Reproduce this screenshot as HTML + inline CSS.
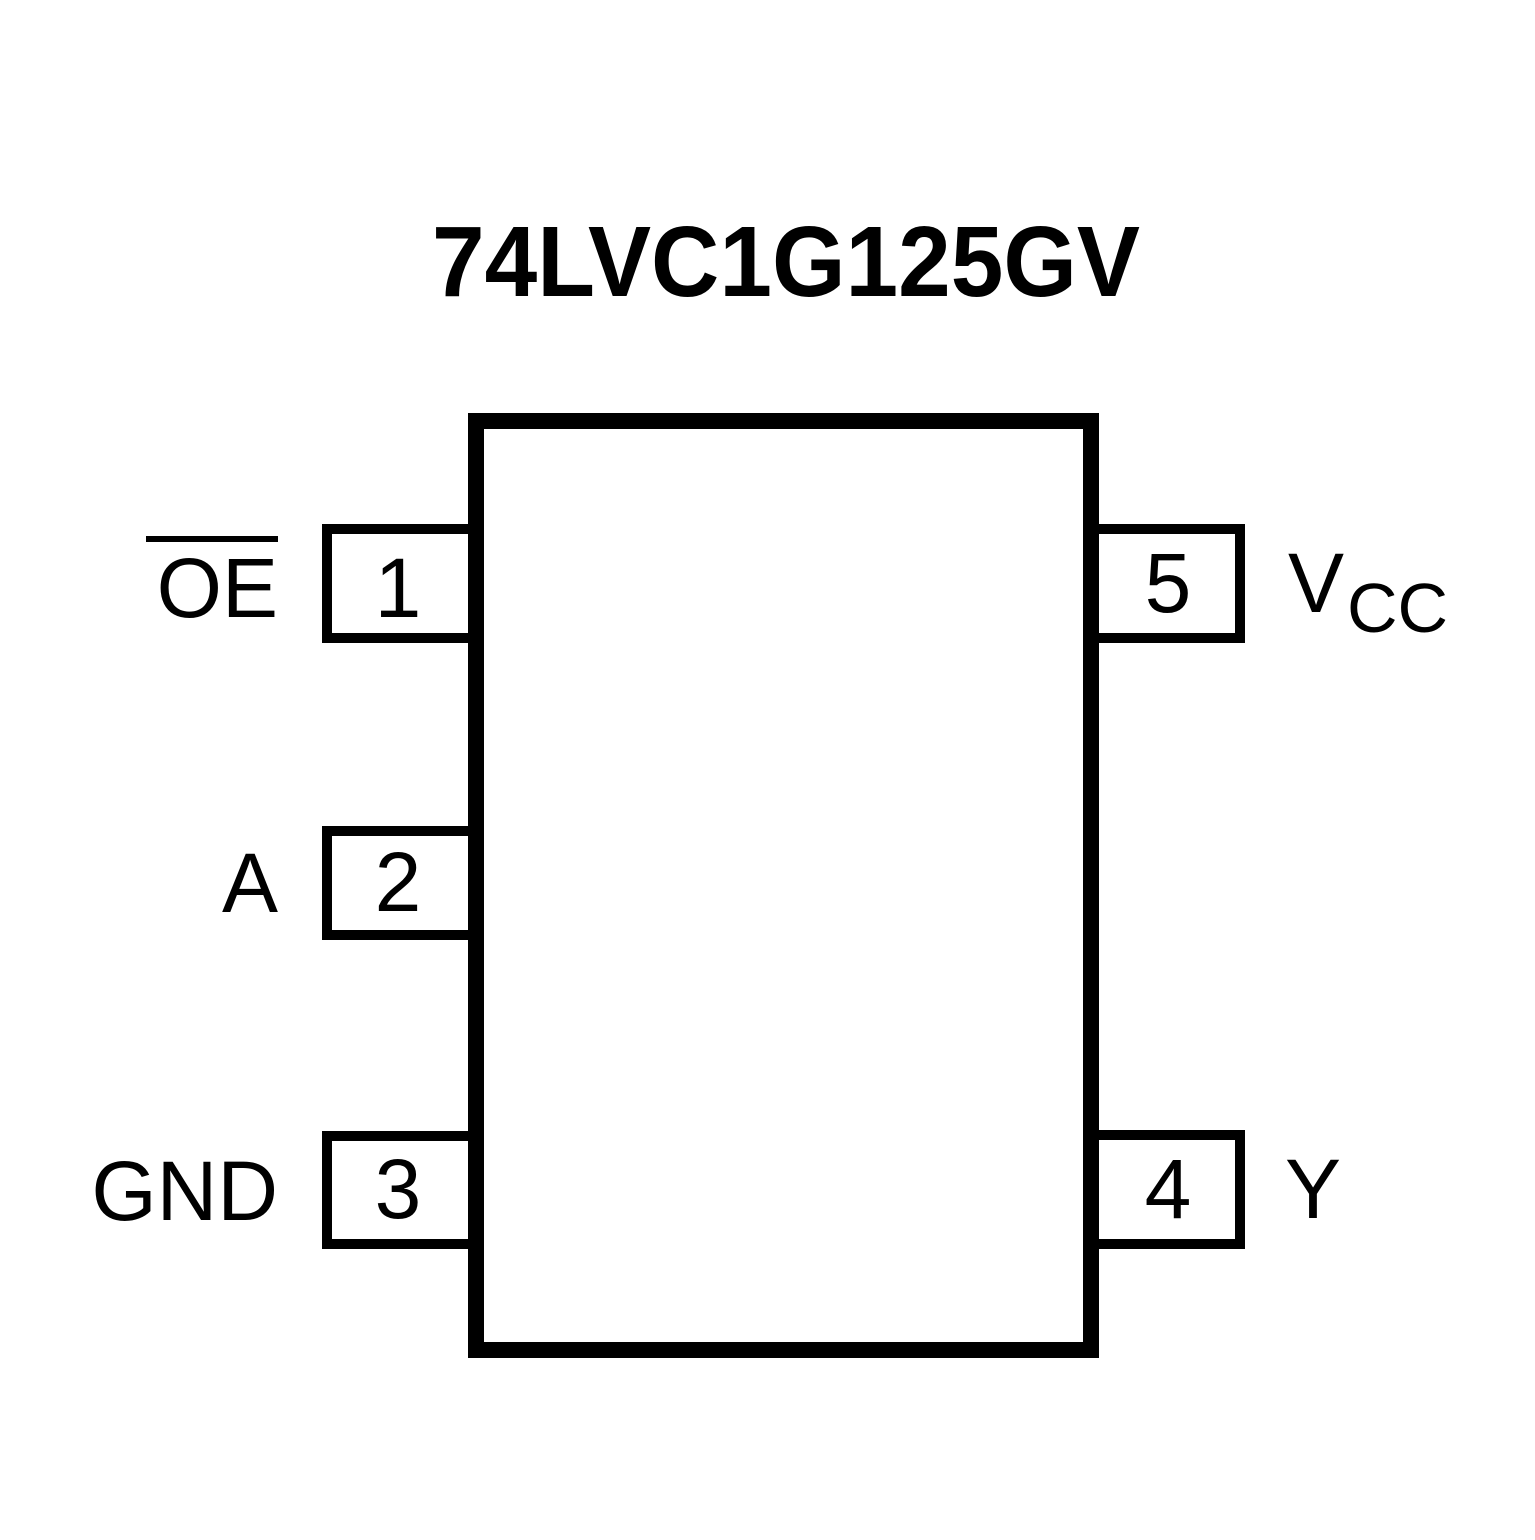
<!DOCTYPE html>
<html><head><meta charset="utf-8"><style>html,body{margin:0;padding:0;background:#fff}</style></head>
<body>
<svg width="1535" height="1535" viewBox="0 0 1535 1535" xmlns="http://www.w3.org/2000/svg" font-family="Liberation Sans, sans-serif">
<rect width="1535" height="1535" fill="#fff"/>
<text x="786" y="296" font-size="100" font-weight="bold" text-anchor="middle" textLength="708" lengthAdjust="spacingAndGlyphs">74LVC1G125GV</text>
<!-- main body -->
<rect x="476" y="421" width="615" height="929" fill="none" stroke="#000" stroke-width="16"/>
<!-- left pins -->
<g fill="none" stroke="#000" stroke-width="10">
<path d="M468 529 H327 V638 H468"/>
<path d="M468 831 H327 V935 H468"/>
<path d="M468 1136 H327 V1244 H468"/>
<path d="M1099 529 H1240 V638 H1099"/>
<path d="M1099 1135 H1240 V1244 H1099"/>
</g>
<g font-size="84" text-anchor="middle">
<text x="398" y="617">1</text>
<text x="398" y="911">2</text>
<text x="398" y="1218">3</text>
<text x="1168" y="612">5</text>
<text x="1168" y="1218">4</text>
</g>
<g font-size="84" text-anchor="end">
<text x="278" y="617">OE</text>
<text x="278" y="912">A</text>
<text x="278" y="1220">GND</text>
</g>
<rect x="146" y="536" width="132" height="6" fill="#000"/>
<text x="1288" y="612" font-size="84">V</text>
<text x="1347" y="632" font-size="70">CC</text>
<text x="1285" y="1218" font-size="84">Y</text>
</svg>
</body></html>
